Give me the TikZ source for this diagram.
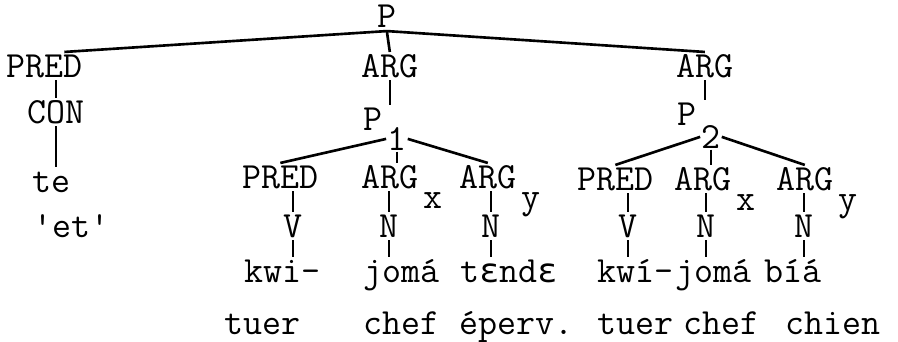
\documentclass[tikz,border=0pt]{standalone}
\usepackage{fontspec}
\usepackage{tikz}
\newfontfamily\epsfont{DejaVu Sans Mono}
\newcommand{\tw}{\ttfamily\fontsize{21}{25}\selectfont}
\newcommand{\eps}{{\epsfont\fontsize{19}{25}\selectfont ɛ}}

\begin{document}
\begin{tikzpicture}[x=0.02cm, y=-0.02cm, line width=1.5pt,
        lab/.style={font=\tw, anchor=base west, inner xsep=0pt, inner ysep=1pt, text height=12.5pt, text depth=0pt},
        sub/.style={font=\tw, anchor=north west, inner sep=0pt, xshift=0.05cm}]
        \useasboundingbox (0,0) rectangle (898,341);

        \node[lab] (p) at (376,28) {P};
        \node[lab] (pred) at (5,77) {PRED};
        \node[lab] (argA) at (360,77) {ARG};
        \node[lab] (argB) at (675,77) {ARG};

        % 'et'
        \node[lab] (con) at (26,123) {CON};
        \node[lab] (te) at (31,192) {te};
        \node[lab] (et) at (32,237) {\textquotesingle et\textquotesingle};

        % P1
        \node[lab, label={[sub, name=pa1, yshift=0.14cm]south east:1}] (pa) at (362,130) {P};
        \node[lab] (predA) at (241,188) {PRED};
        \node[lab, label={[sub]south east:x}] (argAx) at (360,188) {ARG};
        \node[lab, label={[sub]south east:y}] (argAy) at (458,188) {ARG};
        \node[lab] (vA) at (282,237) {V};
        \node[lab] (nAx) at (378,237) {N};
        \node[lab] (nAy) at (480,237) {N};
        \node[lab] (kwiA) at (243,282) {kwi-};
        \node[lab] (jomaA) at (362,282) {jomá};
        \node[lab] (tendeA) at (459,282) {t\eps nd\eps};

        % P2
        \node[lab, label={[sub, name=pb2, yshift=0.08cm]south east:2}] (pb) at (676,125) {P};
        \node[lab] (predB) at (576,190) {PRED};
        \node[lab, label={[sub]south east:x}] (argBx) at (673,190) {ARG};
        \node[lab, label={[sub]south east:y}] (argBy) at (775,190) {ARG};
        \node[lab] (vB) at (617,237) {V};
        \node[lab] (nBx) at (695,237) {N};
        \node[lab] (nBy) at (793,237) {N};
        \node[lab] (kwiB) at (596,282) {kwí-};
        \node[lab] (jomaB) at (674,282) {jomá};
        \node[lab] (bia) at (763,282) {bíá};

        % glosses
        \node[lab] (tuerA) at (223,334) {tuer};
        \node[lab] (chefA) at (362,334) {chef};
        \node[lab] (epervA) at (458,334) {éperv.};
        \node[lab] (tuerB) at (596,334) {tuer};
        \node[lab] (chefB) at (682,334) {chef};
        \node[lab] (chien) at (784,334) {chien};

        \draw (p.south) -- ([xshift=0.4cm]pred.north);
        \draw (p.south) -- (argA.north);
        \draw (p.south) -- (argB.north);
        \draw (pred.south -| con) -- (con);
        \draw (con) -- (con |- te.north);
        \draw (argA) -- (argA |- pa.north);
        \draw (argB) -- (argB |- pb.north);

        \draw (pa1.west) -- (predA.north);
        \draw (pa1) -- (pa1 |- argAx.north);
        \draw (pa1.east) -- (argAy.north);
        \draw (vA) -- (vA |- predA.south);
        \draw (nAx) -- (nAx |- argAx.south);
        \draw (nAy) -- (nAy |- argAy.south);
        \draw (vA) -- (vA |- kwiA.north);
        \draw (nAx) -- (nAx |- jomaA.north);
        \draw (nAy) -- (nAy |- tendeA.north);

        \draw (pb2.west) -- (predB.north);
        \draw (pb2) -- (pb2 |- argBx.north);
        \draw (pb2.east) -- (argBy.north);
        \draw (vB) -- (vB |- predB.south);
        \draw (nBx) -- (nBx |- argBx.south);
        \draw (nBy) -- (nBy |- argBy.south);
        \draw (vB) -- (vB |- kwiB.north);
        \draw (nBx) -- (nBx |- jomaB.north);
        \draw (nBy) -- (nBy |- bia.north);
    \end{tikzpicture}
\end{document}
